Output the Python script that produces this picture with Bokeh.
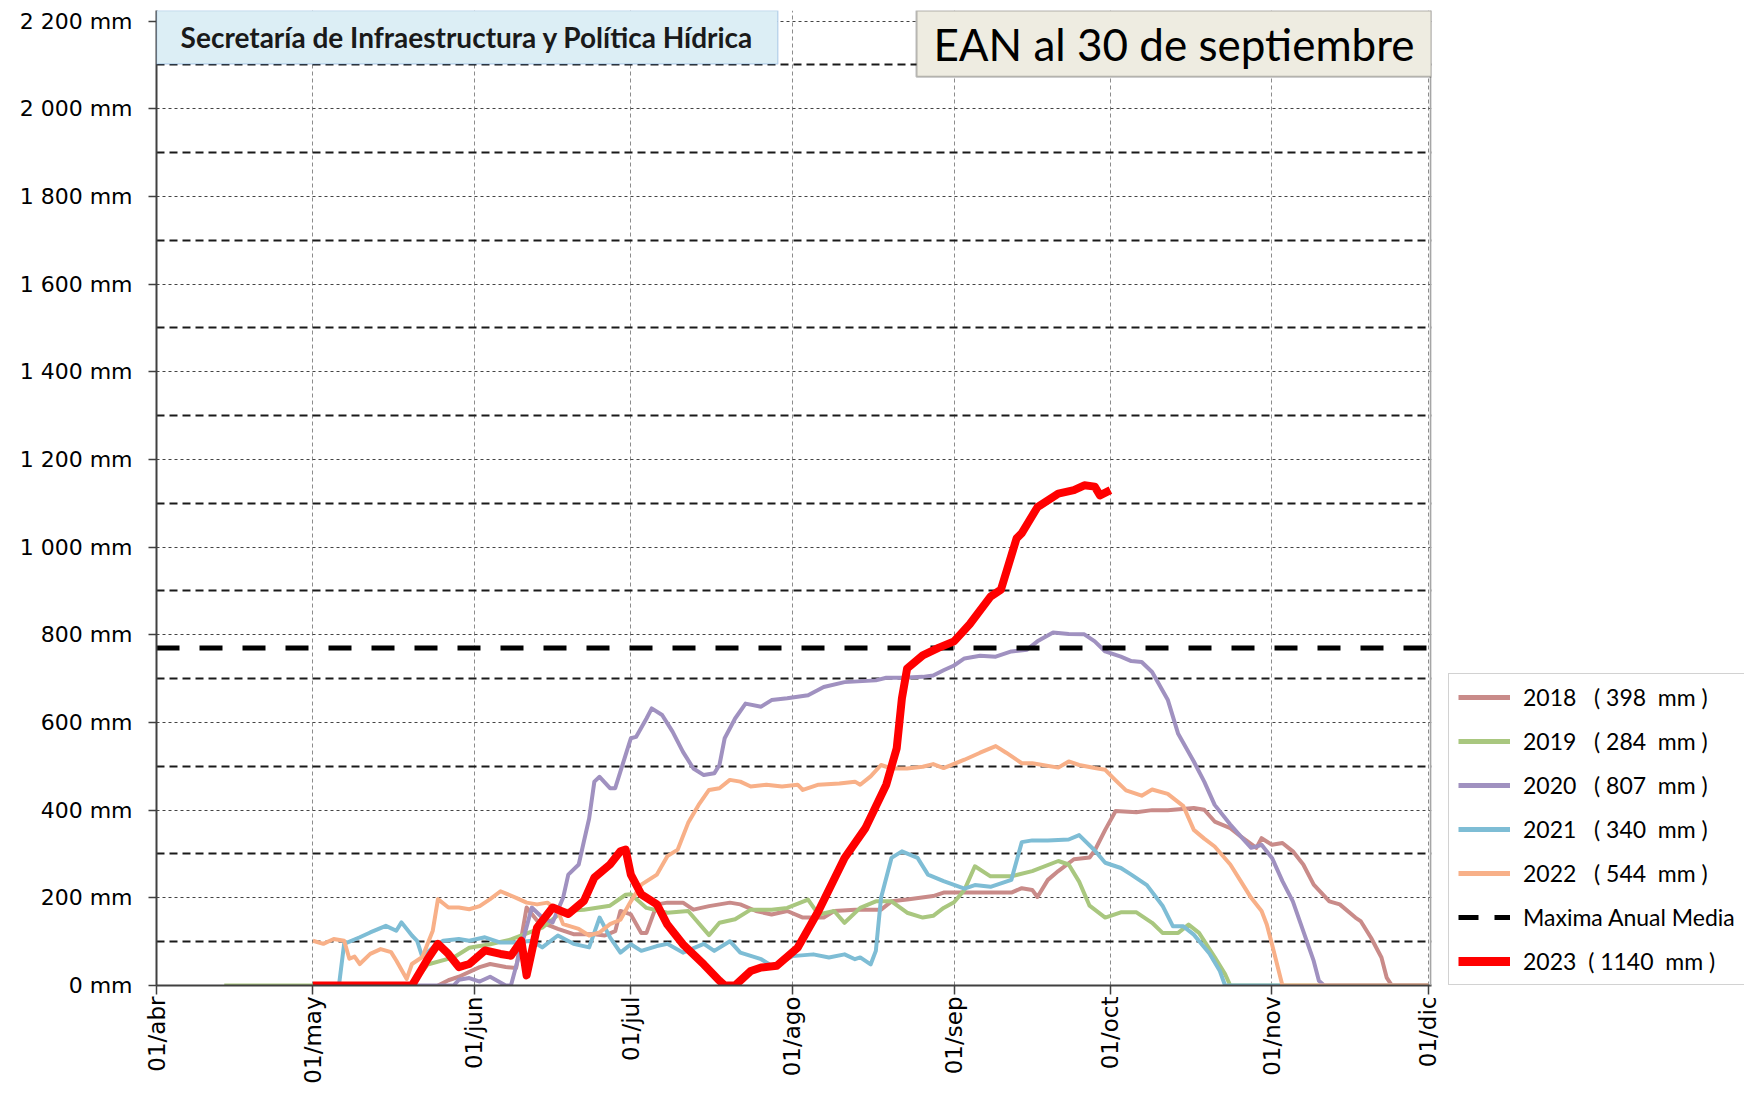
from bokeh.plotting import figure
from bokeh.layouts import row
from bokeh.models import (Range1d, FixedTicker, Grid, Legend, LegendItem, Span,
                          BoxAnnotation, Label)
from bokeh.embed import file_html
from bokeh.resources import INLINE
from math import pi

NAN = float("nan")

# ---- eje X: días desde el 01/abr ----
month_days = [0, 30, 61, 91, 122, 153, 183, 214, 244]
month_labels = ["01/abr", "01/may", "01/jun", "01/jul", "01/ago", "01/sep", "01/oct", "01/nov", "01/dic"]

# ---- eje Y ----
y_ticks = list(range(0, 2201, 200))
y_dash_lines = list(range(100, 2200, 200))

maxima_anual_media = 770

years = ["2018", "2019", "2020", "2021", "2022", "2023"]
totals = [398, 284, 807, 340, 544, 1140]

dias_2018 = [54, 56, 58, 62, 64, 67, 69, 71, 73, 77, 80, 84, 86, 88, 89, 91, 93, 94, 96, 98,
             101, 103, 106, 110, 112, 115, 118, 121, 124, 128, 130, 134, 139, 141, 144, 149, 151, 155, 164, 166,
             168, 169, 171, 173, 176, 179, 180, 182, 184, 188, 191, 194, 199, 201, 203, 206, 208, 211, 212, 214,
             216, 218, 220, 222, 225, 227, 230, 231, 233, 235, 236, 237, 244]
mm_2018 = [0, 12, 20, 42, 49, 42, 40, 178, 148, 129, 117, 117, 114, 124, 170, 162, 120, 120, 185, 189,
           189, 173, 181, 189, 185, 170, 162, 170, 155, 155, 170, 173, 173, 192, 196, 204, 212, 212, 212, 222,
           218, 202, 241, 261, 288, 292, 308, 355, 398, 395, 400, 400, 405, 401, 374, 359, 340, 314, 336, 321,
           325, 306, 276, 230, 192, 185, 155, 147, 109, 64, 18, 0, 0]

dias_2019 = [13, 49, 52, 57, 60, 64, 68, 74, 78, 82, 87, 90, 91, 94, 98, 102, 106, 108, 111, 114,
             118, 121, 125, 127, 130, 132, 135, 138, 141, 144, 147, 149, 151, 153, 155, 157, 160, 164, 168, 173,
             175, 177, 179, 182, 185, 188, 191, 193, 196, 198, 200, 203, 205, 206, 244]
mm_2019 = [0, 0, 48, 64, 86, 94, 105, 132, 170, 173, 182, 207, 208, 177, 166, 170, 115, 143, 151, 173,
           173, 177, 196, 162, 170, 143, 177, 192, 192, 166, 155, 159, 177, 190, 218, 272, 249, 249, 261, 284,
           276, 237, 182, 155, 167, 167, 143, 120, 120, 139, 120, 65, 26, 0, 0]

dias_2020 = [49, 57, 58, 60, 62, 64, 67, 68, 72, 74, 76, 78, 79, 81, 82, 83, 84, 85, 87, 88,
             90, 91, 92, 94, 95, 97, 99, 101, 103, 105, 107, 108, 109, 111, 113, 116, 118, 121, 125, 128,
             132, 138, 140, 143, 147, 149, 151, 153, 155, 158, 161, 164, 167, 169, 172, 175, 178, 180, 182, 185,
             187, 189, 191, 194, 196, 199, 201, 203, 206, 208, 210, 211, 212, 214, 216, 218, 220, 222, 223, 224, 244]
mm_2020 = [0, 0, 13, 17, 9, 20, 0, 0, 178, 155, 144, 200, 253, 276, 329, 381, 465, 476, 450, 450,
           526, 564, 567, 609, 632, 617, 579, 533, 495, 480, 484, 503, 564, 609, 643, 636, 651, 655, 662, 681,
           692, 696, 702, 702, 704, 707, 719, 730, 746, 752, 750, 762, 766, 785, 805, 802, 801, 785, 762, 750,
           740, 738, 715, 652, 574, 511, 465, 412, 367, 340, 314, 317, 321, 291, 238, 192, 124, 56, 11, 0, 0]

dias_2021 = [35, 36, 39, 41, 44, 46, 47, 49, 50, 51, 53, 55, 58, 60, 63, 66, 69, 72, 74, 77,
             80, 83, 85, 87, 89, 91, 93, 96, 98, 101, 105, 107, 110, 112, 116, 118, 119, 122, 126, 129,
             132, 134, 135, 137, 138, 139, 141, 143, 146, 148, 151, 155, 157, 160, 162, 164, 166, 168, 171, 175,
             177, 180, 182, 185, 187, 190, 193, 195, 197, 199, 202, 204, 205, 216]
mm_2021 = [0, 95, 110, 121, 136, 125, 144, 114, 102, 65, 87, 102, 106, 102, 110, 98, 98, 102, 87, 114,
           95, 87, 155, 110, 75, 94, 79, 90, 95, 75, 95, 79, 101, 75, 60, 45, 48, 67, 71, 64,
           71, 60, 64, 48, 79, 200, 291, 306, 291, 253, 238, 221, 229, 225, 233, 241, 327, 331, 331, 333,
           343, 308, 280, 268, 253, 229, 182, 135, 135, 116, 73, 33, 0, 0]

dias_2022 = [30, 32, 34, 36, 37, 38, 39, 41, 43, 45, 46, 48, 49, 51, 53, 54, 56, 58, 60, 62,
             64, 66, 69, 71, 73, 75, 77, 78, 81, 83, 85, 87, 89, 91, 93, 96, 98, 100, 102, 104,
             106, 108, 110, 112, 114, 117, 120, 123, 124, 127, 131, 134, 135, 137, 139, 141, 144, 147, 149, 151,
             155, 158, 161, 163, 166, 168, 173, 175, 177, 180, 182, 184, 186, 189, 191, 194, 197, 199, 201, 203,
             206, 208, 210, 212, 213, 214, 216, 244]
mm_2022 = [102, 95, 106, 102, 61, 66, 49, 72, 83, 76, 57, 15, 49, 65, 125, 197, 178, 178, 174, 181,
           197, 215, 200, 189, 185, 189, 170, 140, 129, 114, 121, 140, 150, 192, 230, 253, 295, 310, 371, 412,
           446, 450, 469, 465, 454, 458, 454, 458, 446, 458, 461, 465, 458, 477, 503, 495, 495, 499, 505, 496,
           515, 531, 546, 531, 507, 507, 497, 511, 503, 496, 492, 468, 445, 433, 447, 437, 409, 355, 335, 317,
           276, 238, 200, 170, 139, 94, 0, 0]

dias_2023 = [30, 49, 50, 52, 54, 56, 58, 60, 63, 66, 68, 70, 71, 73, 76, 79, 82, 84, 87, 89,
             90, 91, 93, 96, 98, 101, 105, 108, 109, 111, 114, 116, 119, 123, 127, 132, 136, 140, 142, 143,
             144, 147, 150, 153, 156, 160, 162, 165, 166, 169, 173, 176, 178, 180, 181, 183]
mm_2023 = [0, 0, 20, 60, 95, 72, 42, 49, 80, 72, 68, 102, 23, 132, 178, 163, 193, 246, 276, 306,
           310, 253, 208, 185, 139, 94, 48, 11, 0, 0, 33, 41, 45, 86, 170, 291, 359, 458, 541, 655,
           723, 753, 770, 785, 824, 887, 903, 1020, 1032, 1091, 1122, 1130, 1141, 1138, 1118, 1130]

colors = {"2018": "#C98B89", "2019": "#A9C77F", "2020": "#A091C0",
          "2021": "#7EBDD5", "2022": "#F8B088", "2023": "#FF0000"}

series = {"2018": (dias_2018, mm_2018), "2019": (dias_2019, mm_2019), "2020": (dias_2020, mm_2020),
          "2021": (dias_2021, mm_2021), "2022": (dias_2022, mm_2022), "2023": (dias_2023, mm_2023)}

THIN, THICK = 4, 8

p = figure(width=1447, height=1086, output_backend="svg", toolbar_location=None,
           x_range=Range1d(0, 244.6), y_range=Range1d(0, 2224),
           min_border_left=156, min_border_right=16, min_border_top=10, min_border_bottom=98,
           background_fill_color="white", border_fill_color="white")
p.outline_line_color = None

# axes
p.xaxis.ticker = FixedTicker(ticks=month_days)
p.xaxis.major_label_overrides = {d: l for d, l in zip(month_days, month_labels)}
p.xaxis.major_label_orientation = pi / 2
p.xaxis.major_label_text_font = "DejaVu Sans"
p.xaxis.major_label_text_font_size = "23px"
p.xaxis.major_label_text_color = "black"
p.xaxis.major_label_standoff = 2
p.xaxis.major_tick_out = 9
p.xaxis.major_tick_in = 0
p.xaxis.major_tick_line_color = "#404040"
p.xaxis.major_tick_line_width = 1.5
p.xaxis.axis_line_color = "#404040"
p.xaxis.axis_line_width = 2
p.xaxis.minor_tick_line_color = None

p.yaxis.ticker = FixedTicker(ticks=y_ticks)
p.yaxis.major_label_overrides = {v: f"{v:,} mm".replace(",", " ") for v in y_ticks}
p.yaxis.major_label_text_font = "DejaVu Sans"
p.yaxis.major_label_text_font_size = "22px"
p.yaxis.major_label_text_color = "black"
p.yaxis.major_label_standoff = 16
p.yaxis.major_tick_out = 8
p.yaxis.major_tick_in = 0
p.yaxis.major_tick_line_color = "#404040"
p.yaxis.major_tick_line_width = 1.5
p.yaxis.axis_line_color = "#404040"
p.yaxis.axis_line_width = 2
p.yaxis.minor_tick_line_color = None

# grids
p.xgrid.ticker = FixedTicker(ticks=month_days)
p.xgrid.grid_line_color = "#8C8C8C"
p.xgrid.grid_line_width = 1
p.xgrid.grid_line_dash = "4 3"
p.ygrid.ticker = FixedTicker(ticks=y_ticks)
p.ygrid.grid_line_color = "#444444"
p.ygrid.grid_line_width = 1
p.ygrid.grid_line_dash = "3 3"
g2 = Grid(dimension=1, ticker=FixedTicker(ticks=y_dash_lines), grid_line_color="#1A1A1A",
          grid_line_width=2, grid_line_dash="8 5")
p.add_layout(g2)

# right border line of the plot area
p.add_layout(Span(location=244.45, dimension="height", line_color="#A6A6A6", line_width=2))

# series
for y in years[:-1]:
    d, v = series[y]
    p.line(d, v, line_color=colors[y], line_width=THIN, line_join="round")
p.line([month_days[0], month_days[-1]], [maxima_anual_media, maxima_anual_media],
       line_color="black", line_width=5, line_dash="23 20")
d, v = series["2023"]
p.line(d, v, line_color=colors["2023"], line_width=THICK, line_join="round")

# title boxes
box1 = BoxAnnotation(left=0, right=119.2, top=2224, bottom=2102, fill_color="#DCEEF5", fill_alpha=1,
                     line_color="#5B8ED0", line_width=1.5, level="annotation")
p.add_layout(box1)
p.add_layout(Label(x=59.6, y=2163, text="Secretaría de Infraestructura y Política Hídrica",
                   text_align="center", text_baseline="middle", text_font="Lato",
                   text_font_style="bold", text_font_size="28px", text_color="#1A1A1A"))
box2 = BoxAnnotation(left=145.8, right=244.6, top=2224, bottom=2073, fill_color="#EEECE1", fill_alpha=1,
                     line_color="#262626", line_width=2, level="annotation")
p.add_layout(box2)
p.add_layout(Label(x=195.2, y=2147, text="EAN al 30 de septiembre",
                   text_align="center", text_baseline="middle", text_font="Lato",
                   text_font_size="44px", text_color="black"))

# ---- legend panel (same line styles as the series; the keys carry no data) ----
q = figure(width=297, height=1086, output_backend="svg", toolbar_location=None,
           x_range=Range1d(0, 1), y_range=Range1d(0, 1),
           x_axis_location=None, y_axis_location=None, min_border=0,
           background_fill_color="white", border_fill_color="white")
q.outline_line_color = None
for g in q.grid:
    g.visible = False

items = []
for y, t in zip(years[:-1], totals[:-1]):
    r = q.line([NAN], [NAN], line_color=colors[y], line_width=THIN + 1)
    items.append(LegendItem(label=f"{y}   ( {t}  mm )", renderers=[r]))
r = q.line([NAN], [NAN], line_color="black", line_width=5, line_dash="20 16")
items.append(LegendItem(label="Maxima Anual Media", renderers=[r]))
r = q.line([NAN], [NAN], line_color=colors["2023"], line_width=THICK + 1)
items.append(LegendItem(label=f"{years[-1]}  ( {totals[-1]}  mm )", renderers=[r]))

legend = Legend(items=items, location=(1, 0), orientation="vertical",
                border_line_color="#A6A6A6", border_line_width=1.5,
                background_fill_color="white", background_fill_alpha=1,
                label_text_font="Lato", label_text_font_size="23px", label_text_color="black",
                glyph_width=52, glyph_height=28, label_height=28, label_standoff=13,
                spacing=16, padding=9, margin=0)
q.add_layout(legend, "center")

layout = row(p, q, spacing=0)
open("out.html", "w").write(file_html(layout, INLINE))
